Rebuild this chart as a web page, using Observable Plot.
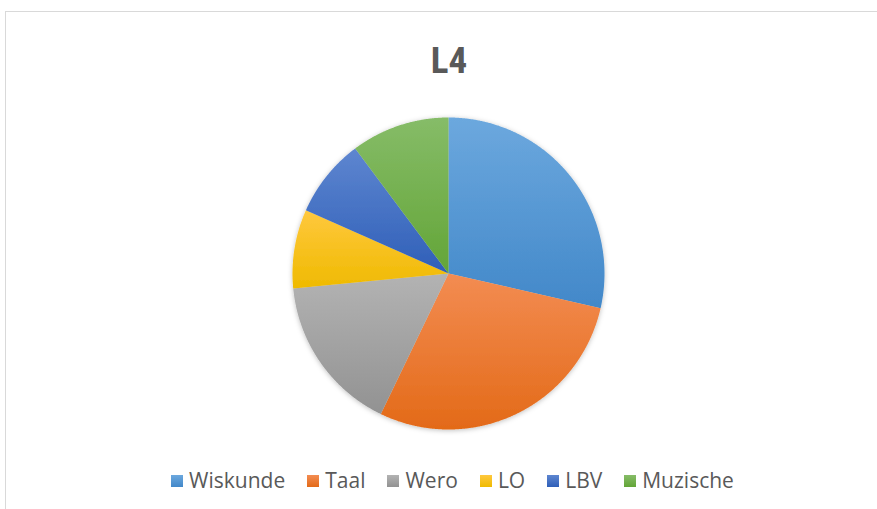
<!DOCTYPE html>
<html><head><meta charset="utf-8">
<script src="https://cdn.jsdelivr.net/npm/d3@7"></script>
<script src="https://cdn.jsdelivr.net/npm/@observablehq/plot@0.6"></script>
<style>
  body{margin:0;background:#fff;width:877px;height:509px;overflow:hidden;position:relative;}
  #frame{position:absolute;left:5px;top:11px;width:900px;height:520px;border-left:1.5px solid #d9d9d9;border-top:1.5px solid #d9d9d9;box-sizing:border-box;}
  #title{position:absolute;left:0;width:898px;top:42px;text-align:center;font-weight:bold;font-size:37px;line-height:37px;font-family:"Liberation Sans Narrow","Roboto Condensed","Liberation Sans",sans-serif;color:#595959;}
  #chart{position:absolute;left:0;top:108px;}
  #legend{position:absolute;top:470px;left:0;width:905px;display:flex;justify-content:center;gap:22px;font-family:"Open Sans",sans-serif;font-size:21px;line-height:20px;color:#595959;}
  .item{display:flex;align-items:center;gap:6px;}
  .sw{width:12px;height:12px;display:inline-block;margin-top:2px;}
</style>
</head><body>
<div id="frame"></div>
<div id="title">L4</div>
<div id="chart"></div>
<div id="legend"></div>
<script>
const categories = ["Wiskunde", "Taal", "Wero", "LO", "LBV", "Muzische"];
const values = [7, 7, 4, 2, 2, 2.5];
const topColors = ["#6CA8DE", "#F38C52", "#B3B3B3", "#FFC83E", "#5E86D0", "#86BC68"];
const bottomColors = ["#4288C9", "#E36A18", "#929292", "#EFBA00", "#2F5FB8", "#63A537"];

const data = categories.map((name, i) => ({name, value: values[i]}));
const arcs = d3.pie().sort(null).value(d => d.value)(data);

const points = [];
arcs.forEach((a, i) => {
  const name = a.data.name;
  points.push({name, x: 0, y: 0});
  const n = Math.max(2, Math.ceil((a.endAngle - a.startAngle) / 0.005));
  for (let k = 0; k <= n; k++) {
    const t = a.startAngle + (a.endAngle - a.startAngle) * k / n;
    points.push({name, x: Math.sin(t), y: Math.cos(t)});
  }
  points.push({name, x: 0, y: 0});
});

const cx = 448, r = 156;
const chart = Plot.plot({
  width: 877,
  height: 330,
  marginLeft: cx - r,
  marginRight: 877 - (cx + r),
  marginTop: 9,
  marginBottom: 9,
  x: {domain: [-1, 1], axis: null},
  y: {domain: [-1, 1], axis: null},
  color: {domain: categories, range: categories.map((c, i) => `url(#grad${i})`)},
  marks: [
    Plot.line(points, {x: "x", y: "y", z: "name", fill: "name", stroke: "none", curve: "linear"})
  ]
});

const ns = "http://www.w3.org/2000/svg";
const defs = document.createElementNS(ns, "defs");
categories.forEach((c, i) => {
  const g = document.createElementNS(ns, "linearGradient");
  g.setAttribute("id", `grad${i}`);
  g.setAttribute("x1", "0"); g.setAttribute("y1", "0");
  g.setAttribute("x2", "0"); g.setAttribute("y2", "1");
  const s1 = document.createElementNS(ns, "stop");
  s1.setAttribute("offset", "0"); s1.setAttribute("stop-color", topColors[i]);
  const s2 = document.createElementNS(ns, "stop");
  s2.setAttribute("offset", "1"); s2.setAttribute("stop-color", bottomColors[i]);
  g.appendChild(s1); g.appendChild(s2);
  defs.appendChild(g);
});
const f = document.createElementNS(ns, "filter");
f.setAttribute("id", "shadow");
f.setAttribute("x", "-10%"); f.setAttribute("y", "-10%");
f.setAttribute("width", "120%"); f.setAttribute("height", "120%");
const ds = document.createElementNS(ns, "feDropShadow");
ds.setAttribute("dx", "0"); ds.setAttribute("dy", "1");
ds.setAttribute("stdDeviation", "2.5");
ds.setAttribute("flood-color", "#000"); ds.setAttribute("flood-opacity", "0.25");
f.appendChild(ds);
defs.appendChild(f);
chart.insertBefore(defs, chart.firstChild);
const lineG = chart.querySelector('g[aria-label="line"]');
if (lineG) lineG.setAttribute("filter", "url(#shadow)");
document.getElementById("chart").appendChild(chart);

const legend = document.getElementById("legend");
categories.forEach((c, i) => {
  const item = document.createElement("div");
  item.className = "item";
  const sw = document.createElement("span");
  sw.className = "sw";
  sw.style.background = `linear-gradient(${topColors[i]}, ${bottomColors[i]})`;
  const t = document.createElement("span");
  t.textContent = c;
  item.appendChild(sw); item.appendChild(t);
  legend.appendChild(item);
});
</script>
</body></html>
